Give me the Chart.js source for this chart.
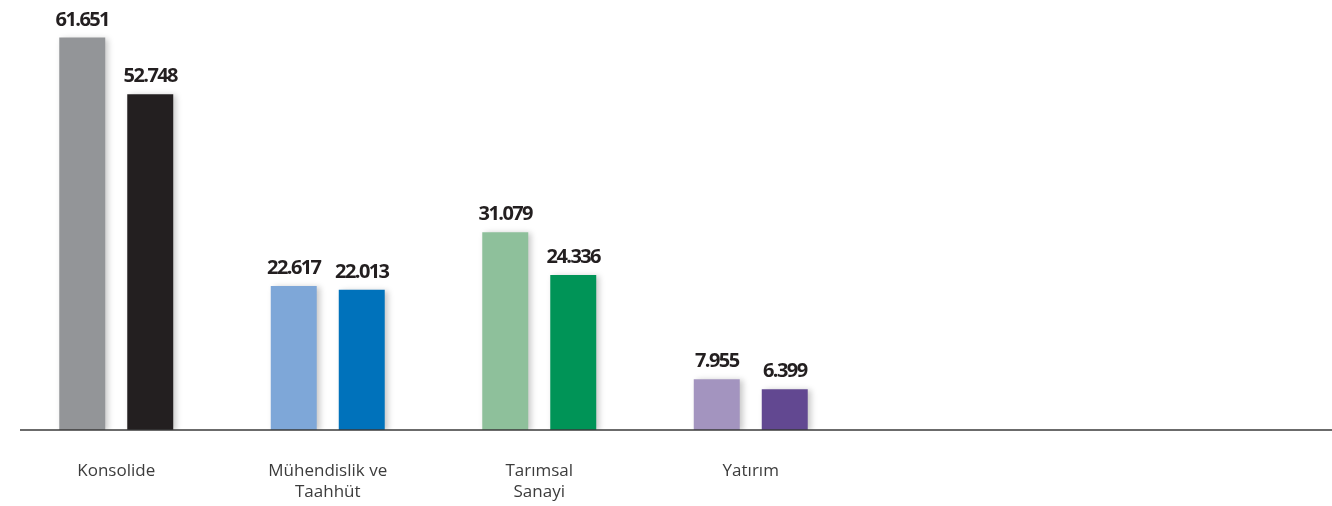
<!DOCTYPE html>
<html>
<head>
<meta charset="utf-8">
<script src="https://cdn.jsdelivr.net/npm/chart.js@4"></script>
<style>
  html, body { margin: 0; padding: 0; background: #fff; }
  #wrap { width: 1332px; height: 506px; position: relative; }
</style>
</head>
<body>
<div id="wrap"><canvas id="segmentChart"></canvas></div>
<script>
// DATA
const categories = [["Konsolide"], ["Mühendislik ve", "Taahhüt"], ["Tarımsal", "Sanayi"], ["Yatırım"]];
const firstValues = [61651, 22617, 31079, 7955];
const secondValues = [52748, 22013, 24336, 6399];
const firstColors = ["#939598", "#7ea7d8", "#8ec09b", "#a394bf"];
const secondColors = ["#231f20", "#0072bb", "#009457", "#624891"];

const ctx = document.getElementById("segmentChart");

// value labels above bars
const valueLabels = {
    id: "valueLabels",
    afterDatasetsDraw(chart) {
        const c = chart.ctx;
        c.save();
        c.font = "bold 20px 'Open Sans'";
        c.letterSpacing = "-1.6px";
        c.fillStyle = "#231f20";
        c.textAlign = "center";
        c.textBaseline = "alphabetic";
        chart.data.datasets.forEach((ds, i) => {
            chart.getDatasetMeta(i).data.forEach((bar, j) => {
                const txt = ds.data[j].toLocaleString("tr-TR");
                c.fillText(txt, bar.x, bar.y - 12);
            });
        });
        c.restore();
    }
};

// soft shadow on bars
const barShadow = {
    id: "barShadow",
    beforeDatasetsDraw(chart) {
        const c = chart.ctx;
        c.save();
        c.shadowColor = "rgba(0,0,0,0.22)";
        c.shadowBlur = 6;
        c.shadowOffsetX = 3;
        c.shadowOffsetY = 1;
    },
    afterDatasetsDraw(chart) {
        chart.ctx.restore();
    }
};

// base line across the full width
const baseLine = {
    id: "baseLine",
    afterDatasetsDraw(chart) {
        const c = chart.ctx;
        const y = chart.scales.y.getPixelForValue(0);
        c.save();
        c.strokeStyle = "#3a3a3a";
        c.lineWidth = 1.5;
        c.beginPath();
        c.moveTo(20, y);
        c.lineTo(chart.width, y);
        c.stroke();
        c.restore();
    }
};

new Chart(ctx, {
    type: "bar",
    data: {
        labels: categories,
        datasets: [
            {
                label: "Dönem 1",
                data: firstValues,
                backgroundColor: firstColors,
                categoryPercentage: 0.643,
                barPercentage: 0.676
            },
            {
                label: "Dönem 2",
                data: secondValues,
                backgroundColor: secondColors,
                categoryPercentage: 0.643,
                barPercentage: 0.676
            }
        ]
    },
    options: {
        responsive: true,
        maintainAspectRatio: false,
        animation: false,
        layout: {
            padding: { left: 10.5, right: 475.5, top: 0, bottom: 0 }
        },
        plugins: {
            legend: { display: false },
            tooltip: { enabled: false }
        },
        scales: {
            x: {
                grid: { display: false, drawTicks: false },
                border: { display: false },
                afterFit(scale) {
                    scale.height = 76;
                },
                ticks: {
                    color: "#3c3c3c",
                    font: { family: "'Open Sans'", size: 17, lineHeight: 1.28 },
                    padding: 30,
                    maxRotation: 0,
                    autoSkip: false
                }
            },
            y: {
                display: false,
                min: 0,
                max: 67550
            }
        }
    },
    plugins: [barShadow, valueLabels, baseLine]
});
</script>
</body>
</html>
